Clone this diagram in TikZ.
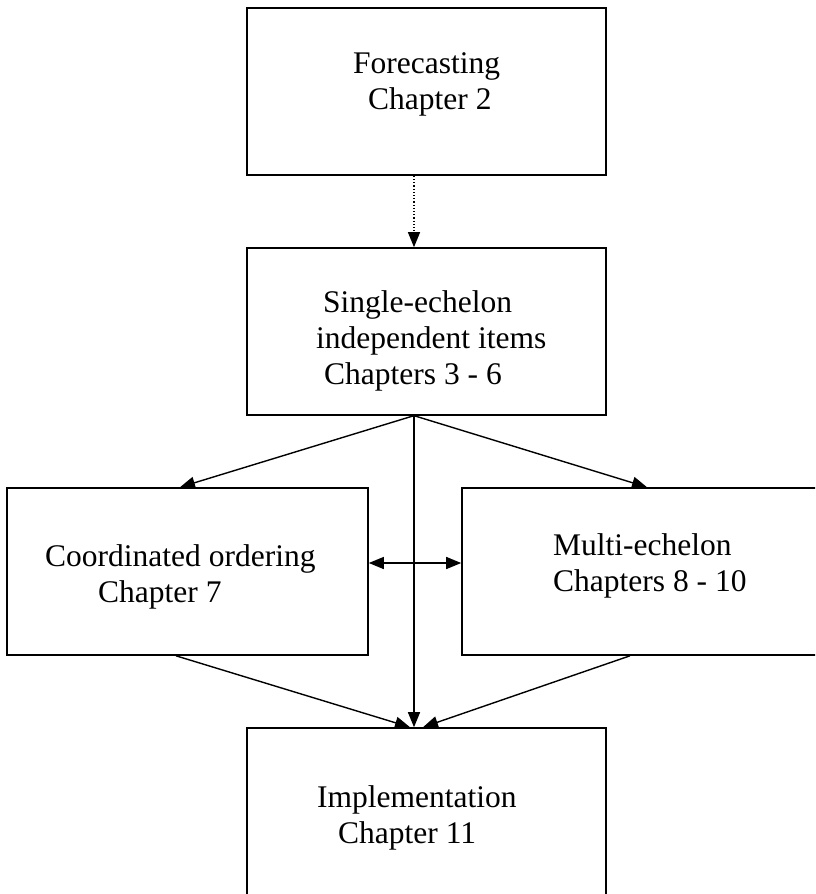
\documentclass[tikz,border=0pt]{standalone}
\usepackage{fontspec}
\setmainfont{Liberation Serif}
\usetikzlibrary{arrows.meta}
\begin{document}
\begin{tikzpicture}[x=1pt,y=-1pt,
  box/.style={draw,line width=1.6pt,minimum width=359pt,minimum height=167pt,inner sep=0pt},
  lbl/.style={anchor=base west,inner sep=0pt,font=\fontsize{31.5}{36}\selectfont},
  conn/.style={line width=1.4pt,-{Triangle[length=15pt,width=12pt]}},
  dconn/.style={line width=1.4pt,{Triangle[length=15pt,width=12pt]}-{Triangle[length=15pt,width=12pt]}},
  dotconn/.style={line width=1.2pt,dotted,-{Triangle[length=15pt,width=12pt]}}]
\clip (0,0) rectangle (815,894);
% boxes
\node[box] (b1) at (426.5,91.5) {};
\node[box] (b2) at (426.5,331.5) {};
\node[box,minimum width=361pt] (b3) at (187.5,571.5) {};
\node[box] (b4) at (641.5,571.5) {};
\node[box] (b5) at (426.5,811.5) {};
% texts
\node[lbl] (t1a) at (353,73) {Forecasting};
\node[lbl] (t1b) at (368,109) {Chapter 2};
\node[lbl] (t2a) at (323,312) {Single-echelon};
\node[lbl] (t2b) at (316,348) {independent items};
\node[lbl] (t2c) at (324,384) {Chapters 3 - 6};
\node[lbl] (t3a) at (45,566) {Coordinated ordering};
\node[lbl] (t3b) at (98,602) {Chapter 7};
\node[lbl] (t4a) at (553,555) {Multi-echelon};
\node[lbl] (t4b) at (553,591) {Chapters 8 - 10};
\node[lbl] (t5a) at (317,807) {Implementation};
\node[lbl] (t5b) at (338,843) {Chapter 11};
% connectors
\draw[dotconn] ([xshift=-12.5pt]b1.south) -- ([xshift=-12.5pt]b2.north);
\draw[conn] ([xshift=-13pt]b2.south) -- ([xshift=-7.5pt]b3.north);
\draw[conn] ([xshift=-12pt]b2.south) -- ([xshift=5.5pt]b4.north);
\draw[conn] ([xshift=-12.5pt]b2.south) -- ([xshift=-12.5pt]b5.north);
\draw[dconn] ([yshift=8.5pt]b3.east) -- ([yshift=8.5pt]b4.west);
\draw[conn] ([xshift=-11.5pt]b3.south) -- ([xshift=-16.5pt]b5.north);
\draw[conn] ([xshift=-11.5pt]b4.south) -- ([xshift=-3.5pt]b5.north);
\end{tikzpicture}
\end{document}
